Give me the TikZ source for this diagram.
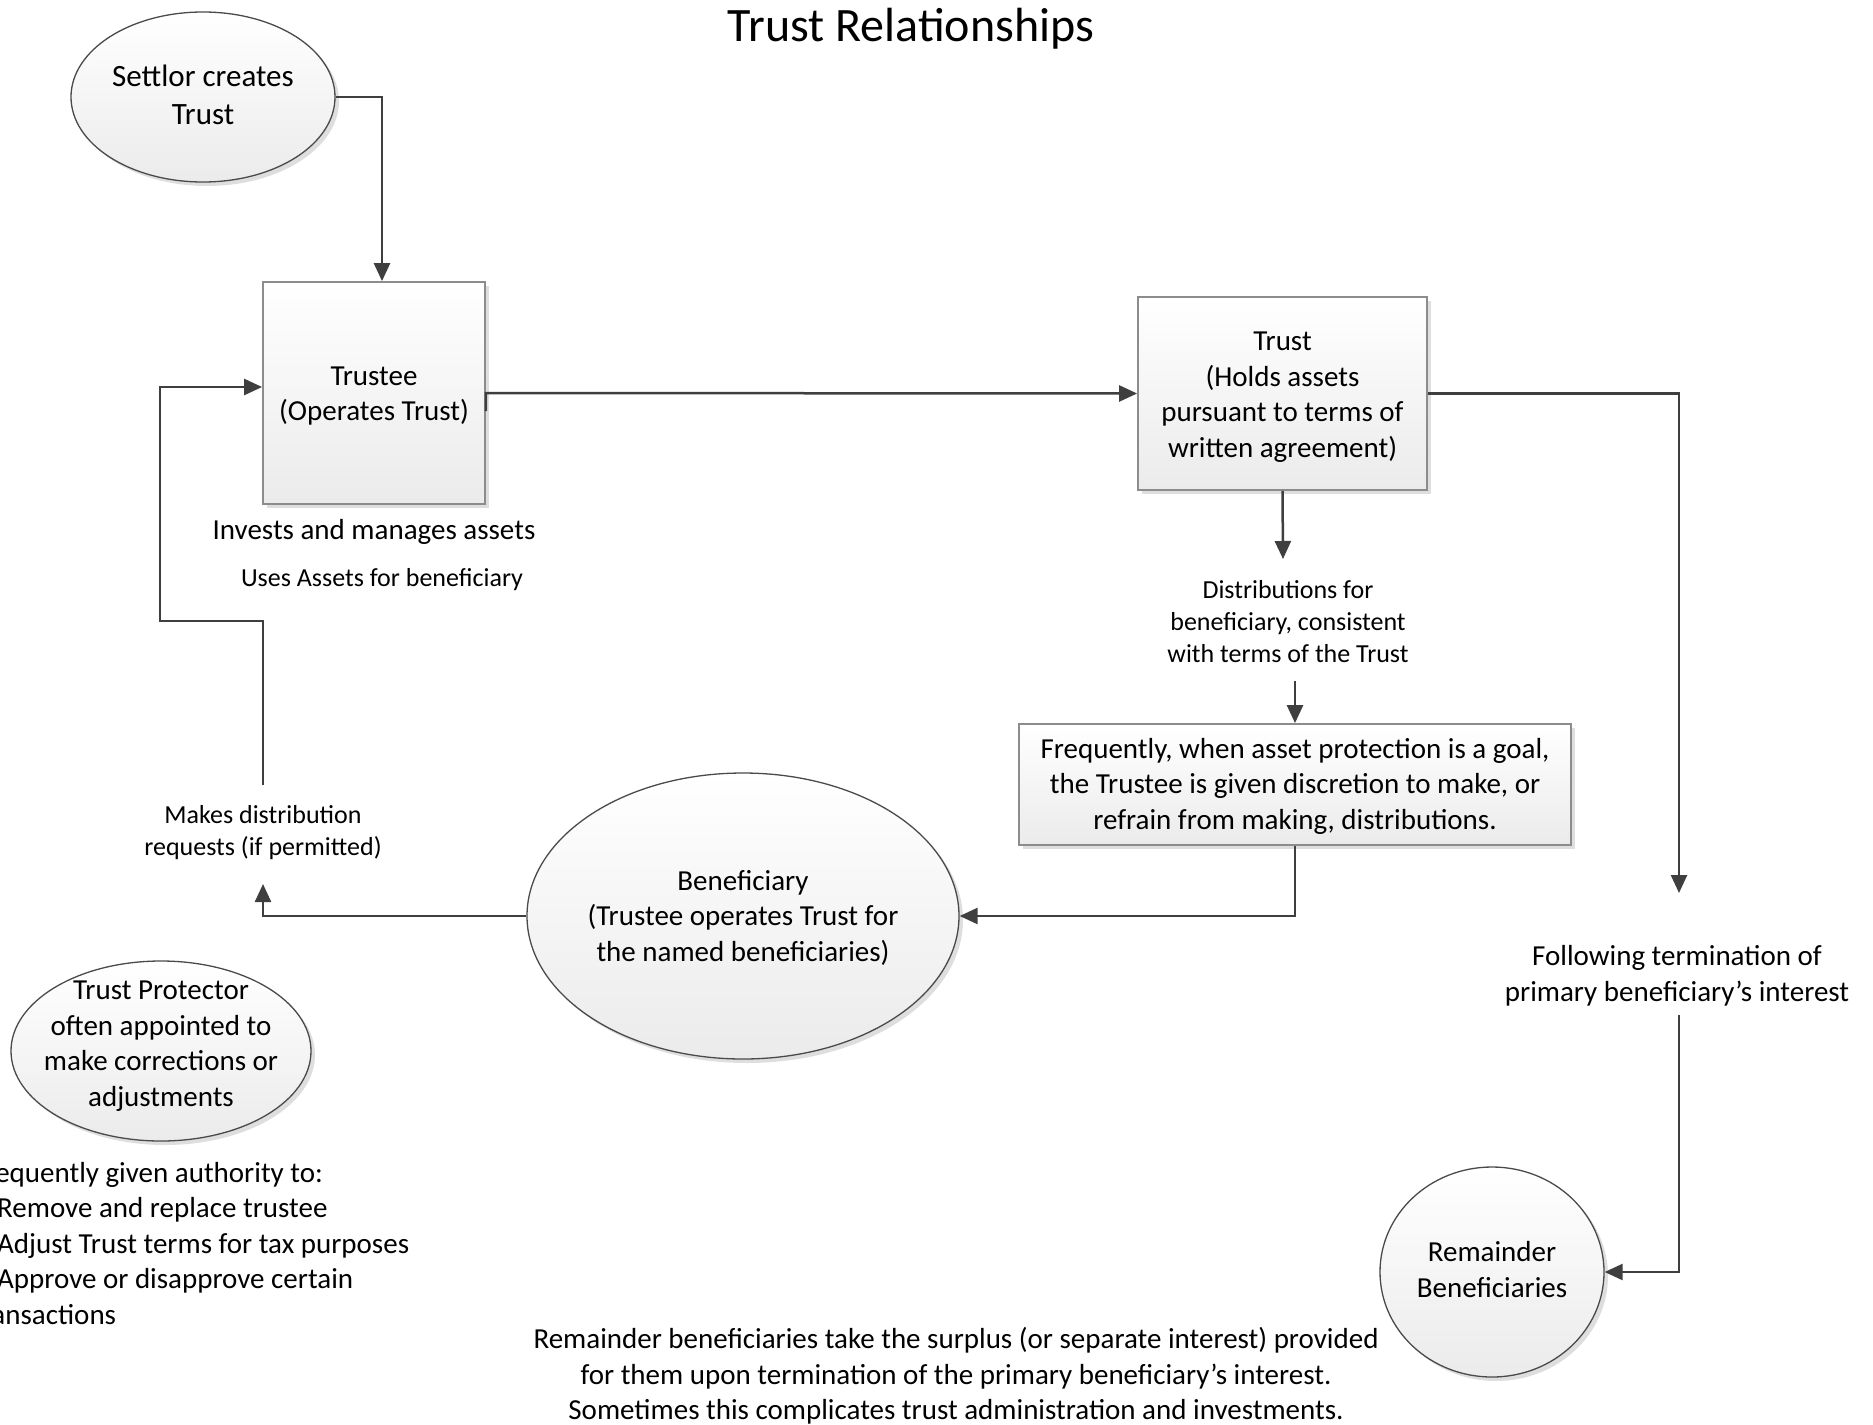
\documentclass[tikz,border=0pt]{standalone}
\usepackage{fontspec}
\setmainfont{Carlito}
\usetikzlibrary{arrows.meta,shapes.geometric,shadows}

\definecolor{wire}{HTML}{3F3F3F}
\definecolor{boxedge}{HTML}{8C8C8C}
\definecolor{ovaledge}{HTML}{4A4A4A}
\definecolor{shadebottom}{HTML}{EBEBEB}

\tikzset{
  txt/.style={inner sep=0pt, align=center, font=\fontsize{29}{35.5}\selectfont},
  smalltxt/.style={inner sep=0pt, align=center, font=\fontsize{26}{32}\selectfont},
  softshadow/.style={drop shadow={shadow xshift=4pt, shadow yshift=-4pt, fill=black, opacity=0.13}},
  panel/.style={rectangle, draw=boxedge, line width=1.8pt, top color=white, bottom color=shadebottom, softshadow, inner sep=0pt},
  oval/.style={ellipse, draw=ovaledge, line width=1.3pt, top color=white, bottom color=shadebottom, softshadow, inner sep=0pt},
  flow/.style={draw=wire, line width=2.5pt, -{Triangle[length=18pt,width=16pt]}},
}

\begin{document}
\begin{tikzpicture}[x=1pt, y=-1pt]
  % page area
  \path[use as bounding box] (0,0) rectangle (1873,1424);
  \fill[white] (0,0) rectangle (1873,1424);
  \clip (0,0) rectangle (1873,1424);

  % heading
  \node[txt, font=\fontsize{48}{58}\selectfont] (title) at (911,29) {Trust Relationships};

  % settlor
  \node[oval, minimum width=264pt, minimum height=170pt] (settlor) at (203,97) {};
  \node[txt, font=\fontsize{31}{38}\selectfont] (settlortxt) at (203,94.5) {Settlor creates\\Trust};

  % trustee
  \node[panel, minimum width=222pt, minimum height=222pt] (trustee) at (374,393) {};
  \node[txt] (trusteetxt) at (374,396) {Trustee\\(Operates Trust)};
  \node[txt] (invests) at (374,532) {Invests and manages assets};
  \node[smalltxt] (uses) at (382,580) {Uses Assets for beneficiary};

  % trust
  \node[panel, minimum width=289pt, minimum height=193pt] (trust) at (1282.5,393.5) {};
  \node[txt] (trusttxt) at (1282.5,397) {Trust\\(Holds assets\\pursuant to terms of\\written agreement)};

  % distributions
  \node[smalltxt] (dist) at (1288,622) {Distributions for\\beneficiary, consistent\\with terms of the Trust};
  \node[panel, minimum width=552pt, minimum height=121pt] (freq) at (1295,784.5) {};
  \node[txt] (freqtxt) at (1295,786) {Frequently, when asset protection is a goal,\\the Trustee is given discretion to make, or\\refrain from making, distributions.};

  % beneficiary
  \node[oval, minimum width=432pt, minimum height=286pt] (benef) at (743,916) {};
  \node[txt] (beneftxt) at (743,917.5) {Beneficiary\\(Trustee operates Trust for\\the named beneficiaries)};

  \node[smalltxt] (request) at (263,833) {Makes distribution\\requests (if permitted)};

  % trust protector
  \node[oval, minimum width=300pt, minimum height=180pt] (protector) at (161,1051) {};
  \node[txt] (protectortxt) at (161,1046) {Trust Protector\\often appointed to\\make corrections or\\adjustments};
  \node[txt, align=left, anchor=west] (powers) at (-28,1243.5)
    {Frequently given authority to:\\
     \hspace*{25pt}Remove and replace trustee\\
     \hspace*{25pt}Adjust Trust terms for tax purposes\\
     \hspace*{25pt}Approve or disapprove certain\\
     transactions};

  % remainder beneficiaries
  \node[oval, minimum width=224pt, minimum height=210pt] (remainder) at (1492,1272) {};
  \node[txt] (remaindertxt) at (1492,1269.5) {Remainder\\Beneficiaries};
  \node[txt] (following) at (1677,976) {Following termination of\\primary beneficiary’s interest};
  \node[txt] (surplus) at (956,1376)
    {Remainder beneficiaries take the surplus (or separate interest) provided\\
     for them upon termination of the primary beneficiary’s interest.\\
     Sometimes this complicates trust administration and investments.};

  % loose connector ends
  \coordinate (distIn) at (1283,559);
  \coordinate (distOut) at (1295,681);
  \coordinate (reqIn) at (263,884);
  \coordinate (reqOut) at (263,785);
  \coordinate (loopLeft) at (160,621);
  \coordinate (followIn) at (1679,893);
  \coordinate (followOut) at (1679,1015);

  % connectors
  \draw[flow] (settlor.east) -| ([xshift=8pt]trustee.north);
  \draw[flow] ([yshift=-18pt]trustee.east) -- (trustee.east) -- (trust.west);
  \draw[flow] (trust.east) -| (followIn);
  \draw[flow] (trust.south) -- (distIn);
  \draw[flow] (distOut) -- (distOut |- freq.north);
  \draw[flow] (freq.south) |- (benef.east);
  \draw[flow] (benef.west) -| (reqIn);
  \draw[flow] (reqOut) |- (loopLeft) |- ([yshift=6pt]trustee.west);
  \draw[flow] (followOut) |- (remainder.east);
\end{tikzpicture}
\end{document}
